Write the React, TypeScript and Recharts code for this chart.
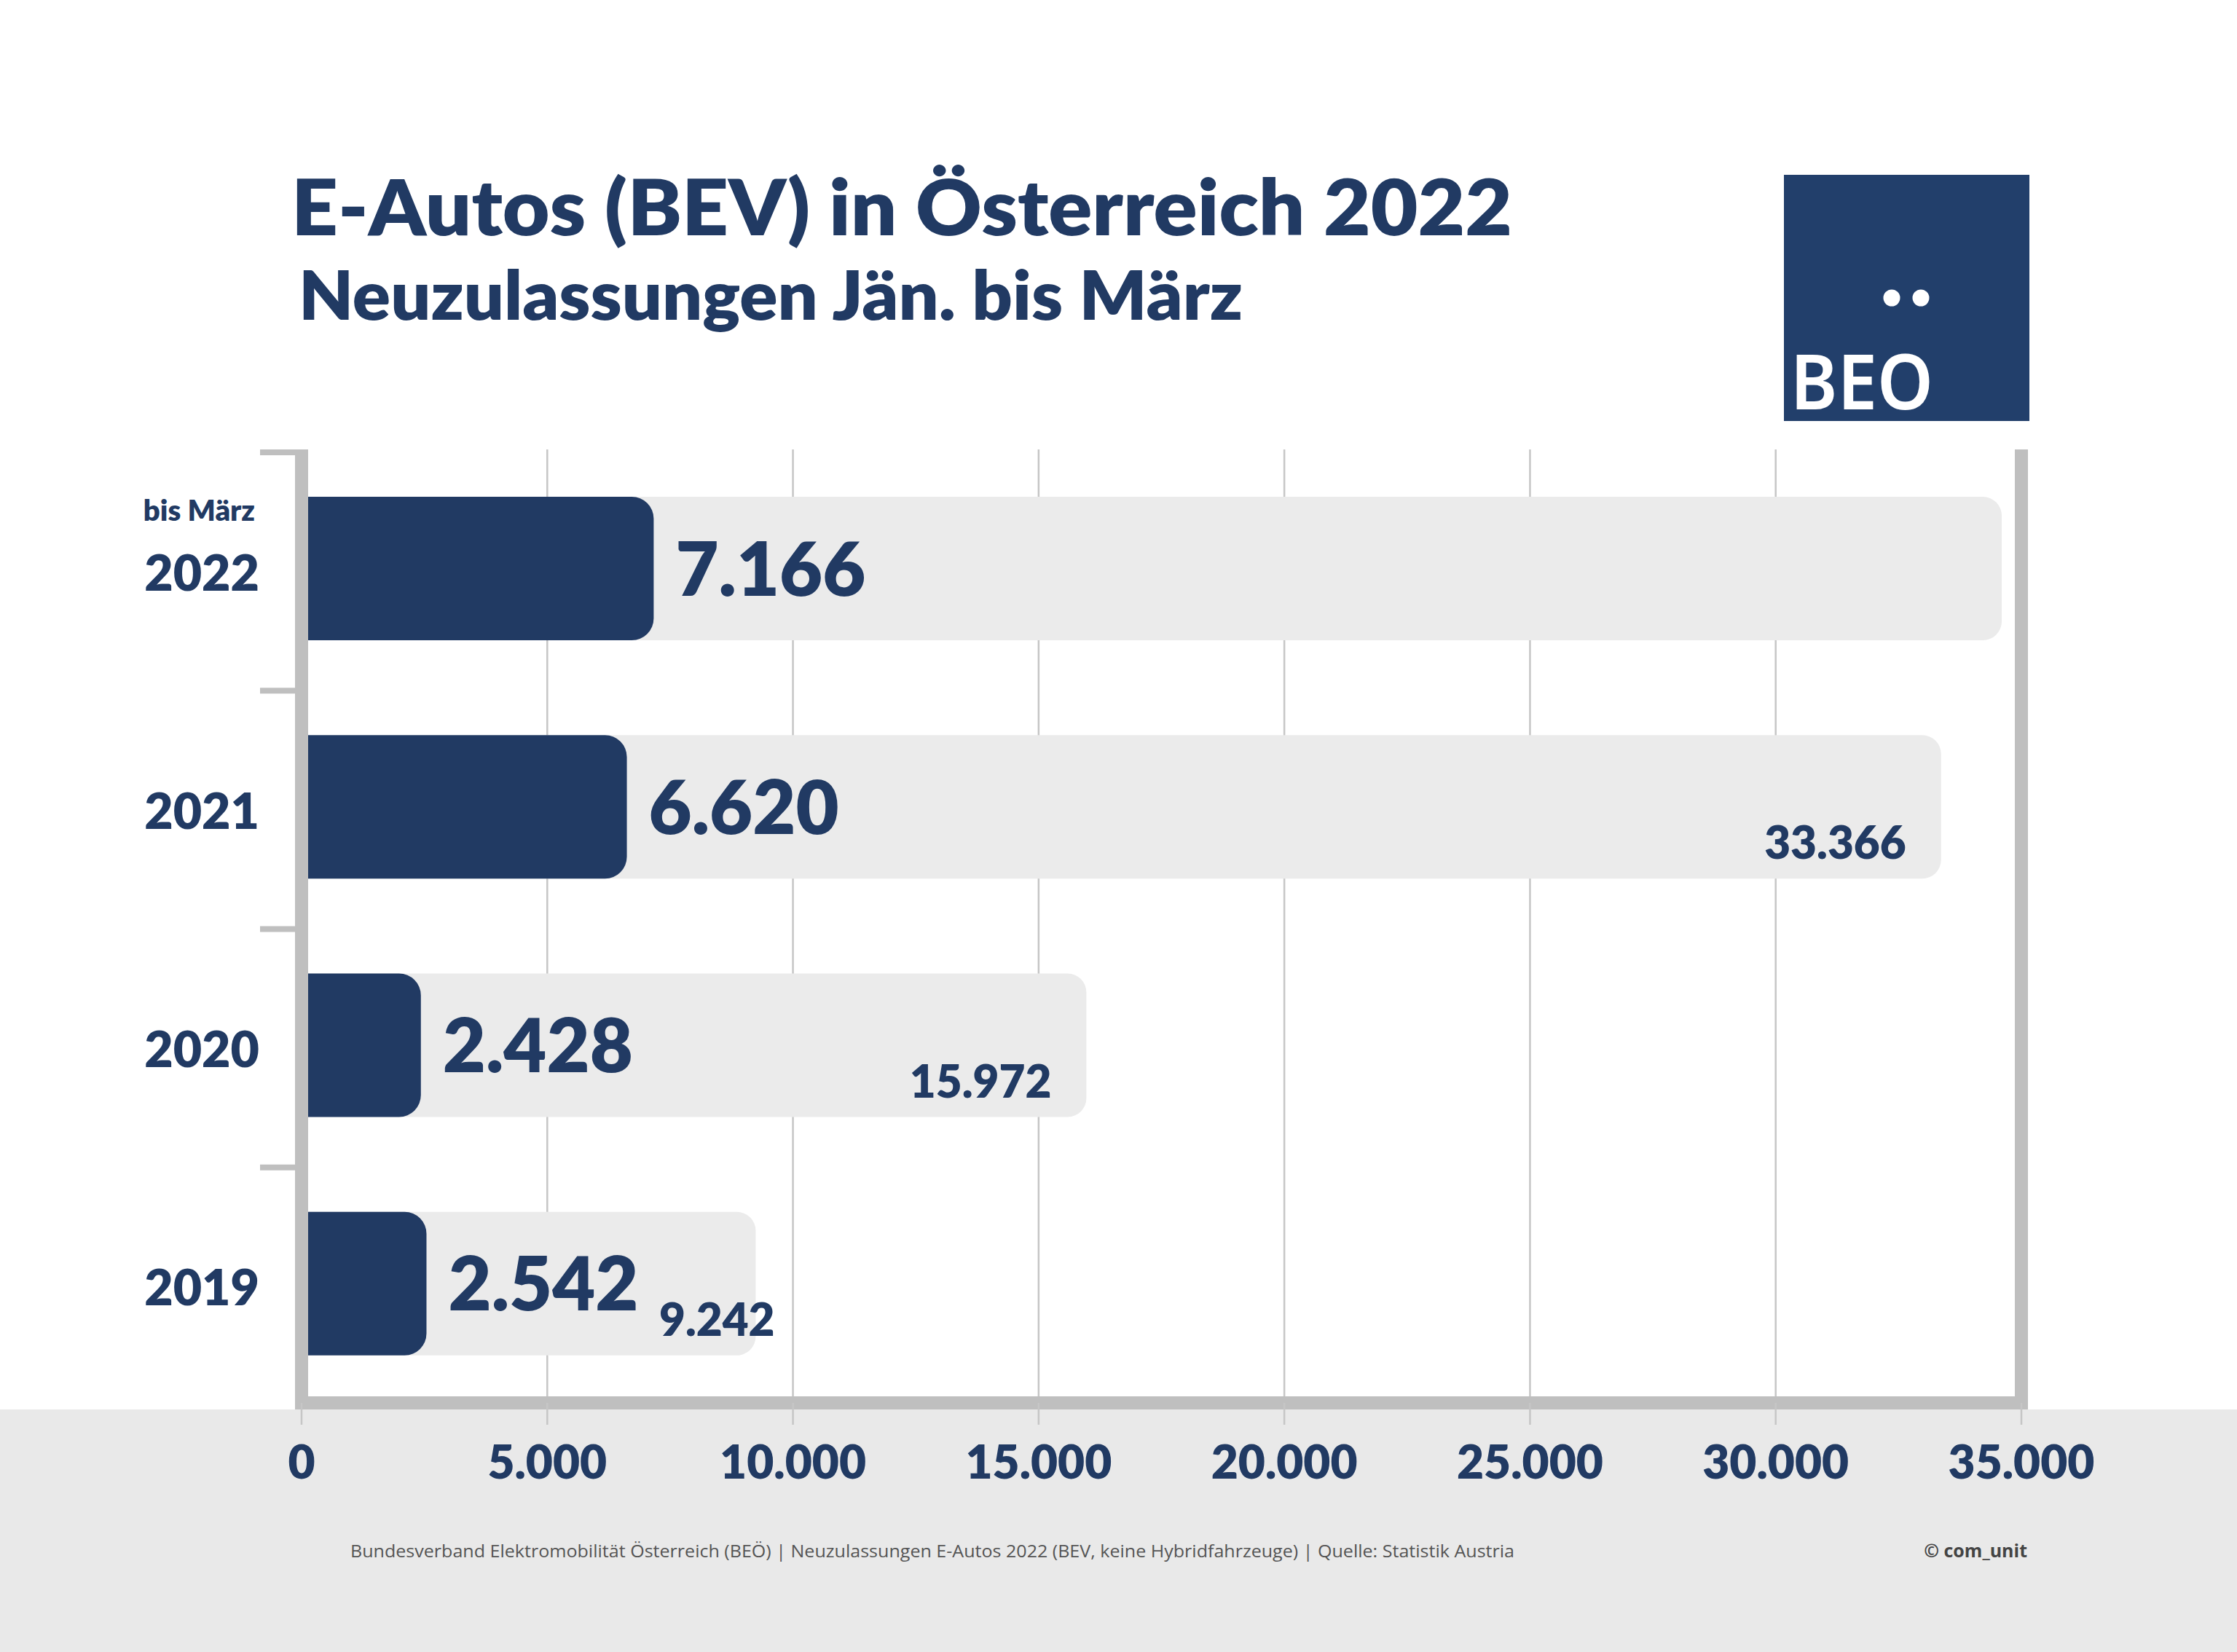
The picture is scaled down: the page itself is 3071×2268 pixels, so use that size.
import React from "react"
import { BarChart, Bar, XAxis, YAxis, CartesianGrid, ReferenceLine, LabelList } from "recharts"

const years = ["2022", "2021", "2020", "2019"]
const yearNotes = ["bis März", "", "", ""]
const quarterValues = [7166, 6620, 2428, 2542]
const yearTotals = [34600, 33366, 15972, 9242]
const showTotals = [false, true, true, true]
const xTicks = [0, 5000, 10000, 15000, 20000, 25000, 30000, 35000]

const title = "E-Autos (BEV) in Österreich 2022"
const subtitle = "Neuzulassungen Jän. bis März"
const sourceText =
  "Bundesverband Elektromobilität Österreich (BEÖ) | Neuzulassungen E-Autos 2022 (BEV, keine Hybridfahrzeuge) | Quelle: Statistik Austria"
const creditText = "© com_unit"

const data = years.map((year, i) => ({
  year,
  note: yearNotes[i],
  value: quarterValues[i],
  total: yearTotals[i],
}))

const NAVY = "#213a63"
const FRAME = "#bfbfbf"
const GRID = "#c6c6c6"
const FONT = "Lato, 'Open Sans', sans-serif"
const HEAVY = 800

const W = 3071
const H = 2268
const PLOT_TOP = 617
const PLOT_BOTTOM = 1926
const PLOT_LEFT = 414
const PLOT_RIGHT = 2775
const BAND = (PLOT_BOTTOM - PLOT_TOP) / years.length

const fmt = (n: number) => String(n).replace(/\B(?=(\d{3})+(?!\d))/g, ".")
const textWidth = (s: string, fs: number) =>
  s.split("").reduce((w, c) => w + (c === "." ? 0.26 : 0.58), 0) * fs

const VALUE_FS = 102
const TOTAL_FS = 62

function YearTick(props: any) {
  const { y, payload, index } = props
  const i = typeof index === "number" ? index : years.indexOf(payload.value)
  const note = yearNotes[i]
  const top = y - BAND / 2
  return (
    <g>
      <line x1={357} x2={PLOT_LEFT} y1={top + 4} y2={top + 4} stroke={FRAME} strokeWidth={8} />
      {note ? (
        <text x={350} y={y - 66} textAnchor="end" fill={NAVY} fontFamily={FONT} fontWeight={HEAVY} fontSize={40}>
          {note}
        </text>
      ) : null}
      <text x={356} y={y + 30} textAnchor="end" fill={NAVY} fontFamily={FONT} fontWeight={HEAVY} fontSize={68}>
        {payload.value}
      </text>
    </g>
  )
}

function ValueTick(props: any) {
  const { x, payload } = props
  return (
    <text x={x} y={2030} textAnchor="middle" fill={NAVY} fontFamily={FONT} fontWeight={HEAVY} fontSize={64}>
      {fmt(payload.value)}
    </text>
  )
}

function ValueLabel(props: any) {
  const { x, y, width, height, value } = props
  return (
    <text
      x={x + width + 30}
      y={y + height / 2 + 37}
      fill={NAVY}
      fontFamily={FONT}
      fontWeight={HEAVY}
      fontSize={VALUE_FS}
    >
      {fmt(value)}
    </text>
  )
}

function TotalLabel(props: any) {
  const { x, y, width, height, value, index } = props
  const i = typeof index === "number" ? index : yearTotals.indexOf(value)
  if (!showTotals[i]) return null
  const darkEnd = x + (width * quarterValues[i]) / yearTotals[i]
  const label = fmt(value)
  const minEnd = darkEnd + 30 + textWidth(fmt(quarterValues[i]), VALUE_FS) + 25 + textWidth(label, TOTAL_FS)
  const endX = Math.max(x + width - 48, minEnd)
  return (
    <text
      x={endX}
      y={y + height - 27}
      textAnchor="end"
      fill={NAVY}
      fontFamily={FONT}
      fontWeight={HEAVY}
      fontSize={TOTAL_FS}
    >
      {label}
    </text>
  )
}

function Decorations() {
  return (
    <svg width={W} height={H} style={{ position: "absolute", left: 0, top: 0 }}>
      <rect x={0} y={1935} width={W} height={H - 1935} fill="#e9e9e9" />
      <text x={400} y={323} fill={NAVY} fontFamily={FONT} fontWeight={HEAVY} fontSize={106} textLength={1676} lengthAdjust="spacingAndGlyphs">
        {title}
      </text>
      <text x={410} y={439} fill={NAVY} fontFamily={FONT} fontWeight={HEAVY} fontSize={92} textLength={1296} lengthAdjust="spacingAndGlyphs">
        {subtitle}
      </text>
      <rect x={2449} y={240} width={337} height={338} fill="#223f6b" />
      <circle cx={2597} cy={409} r={11.5} fill="#fff" />
      <circle cx={2637} cy={409} r={11.5} fill="#fff" />
      <text x={2458} y={562} fill="#fff" fontFamily="'Noto Sans', sans-serif" fontWeight={600} fontSize={104} textLength={196} lengthAdjust="spacingAndGlyphs">
        BEO
      </text>
      <text x={481} y={2138} fill="#555" fontFamily="'Open Sans', sans-serif" fontSize={24} textLength={1598} lengthAdjust="spacingAndGlyphs">
        {sourceText}
      </text>
      <text x={2783} y={2138} textAnchor="end" fill="#444" fontFamily="'Open Sans', sans-serif" fontWeight={700} fontSize={25}>
        {creditText}
      </text>
    </svg>
  )
}

export default function App() {
  return (
    <div style={{ position: "absolute", left: 0, top: 0, width: W, height: H, background: "#fff" }}>
      <Decorations />
      <div style={{ position: "absolute", left: 0, top: 0 }}>
        <BarChart
          width={W}
          height={H}
          data={data}
          layout="vertical"
          barSize={197}
          barGap={-197}
          margin={{ top: PLOT_TOP, right: W - PLOT_RIGHT, bottom: H - PLOT_BOTTOM - 120, left: 0 }}
        >
          <CartesianGrid horizontal={false} stroke={GRID} strokeWidth={2.5} />
          <XAxis
            type="number"
            domain={[0, 35000]}
            ticks={xTicks}
            height={120}
            axisLine={{ stroke: FRAME, strokeWidth: 18, strokeLinecap: "square" }}
            tickLine={{ stroke: GRID, strokeWidth: 2.5 }}
            tickSize={30}
            tick={<ValueTick />}
            interval={0}
          />
          <YAxis
            type="category"
            dataKey="year"
            width={PLOT_LEFT}
            axisLine={{ stroke: FRAME, strokeWidth: 18 }}
            tickLine={false}
            tick={<YearTick />}
            interval={0}
          />
          <Bar dataKey="total" fill="#ebebeb" radius={[0, 26, 26, 0]} isAnimationActive={false}>
            <LabelList dataKey="total" content={<TotalLabel />} />
          </Bar>
          <Bar dataKey="value" fill={NAVY} radius={[0, 30, 30, 0]} isAnimationActive={false}>
            <LabelList dataKey="value" content={<ValueLabel />} />
          </Bar>
          <ReferenceLine x={35000} stroke={FRAME} strokeWidth={18} />
        </BarChart>
      </div>
    </div>
  )
}
